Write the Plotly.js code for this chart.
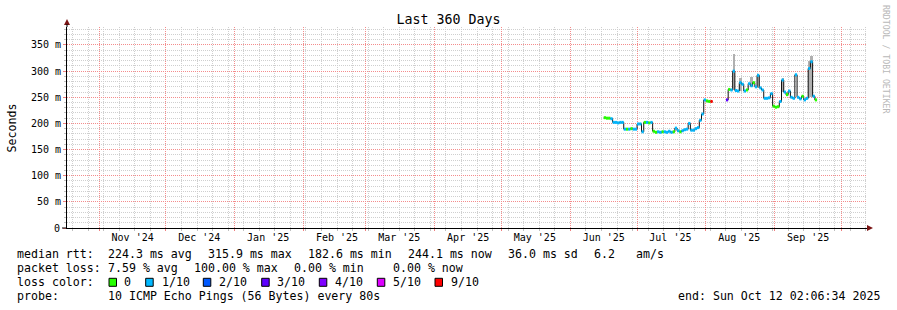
<!DOCTYPE html>
<html><head><meta charset="utf-8">
<script src="https://cdn.plot.ly/plotly-3.0.1.min.js"></script>
<style>html,body{margin:0;padding:0;background:#fff}#chart{width:897px;height:310px}</style>
</head><body><div id="chart"></div>
<script>
// ---------------- data ----------------
const dates = [
 '2025-06-16','2025-06-17','2025-06-18','2025-06-19','2025-06-20','2025-06-21','2025-06-22','2025-06-23','2025-06-24','2025-06-25',
 '2025-06-26','2025-06-27','2025-06-28','2025-06-29','2025-06-30','2025-07-01','2025-07-02','2025-07-03','2025-07-04','2025-07-05',
 '2025-07-06','2025-07-07','2025-07-08','2025-07-09','2025-07-10','2025-07-11','2025-07-12','2025-07-13','2025-07-14','2025-07-15',
 '2025-07-16','2025-07-17','2025-07-18','2025-07-19','2025-07-20','2025-07-21','2025-07-22','2025-07-23','2025-07-24','2025-07-25',
 '2025-07-26','2025-07-27','2025-07-28','2025-07-29','2025-07-30','2025-07-31','2025-08-01','2025-08-02','2025-08-03','2025-08-04',
 '2025-08-10','2025-08-11','2025-08-12','2025-08-13','2025-08-14','2025-08-15','2025-08-16','2025-08-17','2025-08-18','2025-08-19',
 '2025-08-20','2025-08-21','2025-08-22','2025-08-23','2025-08-24','2025-08-25','2025-08-26','2025-08-27','2025-08-28','2025-08-29',
 '2025-08-30','2025-08-31','2025-09-01','2025-09-02','2025-09-03','2025-09-04','2025-09-05','2025-09-06','2025-09-07','2025-09-08',
 '2025-09-09','2025-09-10','2025-09-11','2025-09-12','2025-09-13','2025-09-14','2025-09-15','2025-09-16','2025-09-17','2025-09-18',
 '2025-09-19'
];
// median rtt in ms (null = no data)
const median = [
 211,210,210,209,202,202,201,202,202,189,
 189,189,190,189,189,199,199,184,202,202,
 201,202,185,183,184,183,184,184,183,185,
 183,184,191,186,184,186,188,189,200,187,
 187,190,192,206,218,245,243,242,242,null,
 245,265,264,300,263,262,278,275,262,264,
 276,272,278,270,292,268,264,248,248,249,
 257,233,231,232,242,283,260,255,262,250,
 248,293,250,247,252,245,248,305,318,252,
 245
];
// loss class index (into lossLabels / lossColors)
const lossClass = [
 0,0,0,1,1,1,1,1,1,1,
 0,1,0,1,1,1,1,1,0,1,
 0,1,0,0,1,1,0,1,1,1,
 1,0,1,1,0,1,1,1,1,1,
 1,1,1,1,1,1,0,0,6,null,
 3,0,1,1,1,1,1,1,1,0,
 1,1,0,1,1,1,1,1,1,1,
 1,0,0,0,1,1,1,0,1,1,
 1,1,1,1,0,1,1,1,1,1,
 0
];
// visible smoke (ping spread) columns
const smokeDates = ['2025-08-13','2025-08-16','2025-08-21','2025-08-24','2025-09-04','2025-09-16','2025-09-17'];
const smokeLo    = [264, 262, 270, 268, 260, 248, 250];
const smokeHi    = [333, 287, 289, 295, 287, 320, 328];

const lossLabels = ['0','1/10','2/10','3/10','4/10','5/10','9/10'];
const lossColors = ['#26ff00','#00b8ff','#0059ff','#5e00ff','#7e00ff','#dd00ff','#ff0000'];

const monthStarts = ['2024-11-01','2024-12-01','2025-01-01','2025-02-01','2025-03-01','2025-04-01',
                     '2025-05-01','2025-06-01','2025-07-01','2025-08-01','2025-09-01','2025-10-01'];
const monthLabelPos = ['2024-11-16','2024-12-16','2025-01-16','2025-02-16','2025-03-16','2025-04-16',
                       '2025-05-16','2025-06-16','2025-07-16','2025-08-16','2025-09-16'];
const monthLabels = ["Nov '24","Dec '24","Jan '25","Feb '25","Mar '25","Apr '25",
                     "May '25","Jun '25","Jul '25","Aug '25","Sep '25"];
const yTicks = [0,50,100,150,200,250,300,350];
const yTickLabels = ['0','50 m','100 m','150 m','200 m','250 m','300 m','350 m'];
const yMinorTicks = [10,20,30,40,60,70,80,90,110,120,130,140,160,170,180,190,210,220,230,240,
                     260,270,280,290,310,320,330,340,360,370,380];

const statsLine1 = ['median rtt:','224.3 ms avg','315.9 ms max','182.6 ms min','244.1 ms now','36.0 ms sd','6.2','am/s'];
const statsLine2 = ['packet loss:','7.59 % avg','100.00 % max','0.00 % min','0.00 % now'];
const probeText = ['probe:','10 ICMP Echo Pings (56 Bytes) every 80s'];
const endText = 'end: Sun Oct 12 02:06:34 2025';
const titleText = 'Last 360 Days';

// ---------------- geometry helpers (layout only) ----------------
const W = 897, H = 310, L = 67, R = 867, T = 27, B = 228;
const px = x => (x - L) / (R - L);
const py = y => (B - y) / (B - T);
const DAY = 86400000;
const t = s => Date.parse(s.length === 10 ? s + 'T00:00:00Z' : s.replace(' ', 'T') + 'Z');
const xStart = '2024-10-17 11:15:00', xEnd = '2025-10-12 11:15:00';
const FONT = 'DejaVu Sans Mono, monospace';

// ---------------- traces ----------------
const traces = [];
// smoke
traces.push({
  type: 'bar', x: smokeDates.map(t), base: smokeLo, y: smokeHi.map((h, i) => h - smokeLo[i]),
  width: DAY, offset: 0, marker: {color: '#b0b0b0', line: {width: 0}}, hoverinfo: 'skip'
});
// black median step line
const mx = [], my = [];
for (let i = 0; i < dates.length; i++) {
  if (median[i] == null) { mx.push(null); my.push(null); continue; }
  mx.push(t(dates[i])); my.push(median[i]);
  if (i === dates.length - 1 || median[i + 1] == null) { mx.push(t(dates[i]) + DAY); my.push(median[i]); }
}
traces.push({type: 'scatter', mode: 'lines', x: mx, y: my, line: {color: '#111', width: 1, shape: 'hv'}, connectgaps: false, hoverinfo: 'skip'});
// loss-coloured median segments
lossColors.forEach((c, k) => {
  const sx = [], sy = [];
  for (let i = 0; i < dates.length; i++) {
    if (lossClass[i] !== k || median[i] == null) continue;
    sx.push(t(dates[i]), t(dates[i]) + DAY, null);
    sy.push(median[i], median[i], null);
  }
  if (sx.length) traces.push({type: 'scatter', mode: 'lines', x: sx, y: sy, line: {color: c, width: 3}, connectgaps: false, hoverinfo: 'skip'});
});
// dummy trace for label axis
traces.push({type: 'scatter', x: [t(xStart)], y: [null], xaxis: 'x2', yaxis: 'y', hoverinfo: 'skip', showlegend: false});

// ---------------- annotations ----------------
const ann = [];
const txt = (x, y, text, opts = {}) => ann.push(Object.assign({
  xref: 'paper', yref: 'paper', x: px(x), y: py(y), text, showarrow: false,
  xanchor: 'left', yanchor: 'middle', borderpad: 0, font: {family: FONT, size: 11.6, color: '#000'}
}, opts));
const l1x = [16, 107.3, 207.3, 307.3, 407.3, 507, 593.3, 635];
statsLine1.forEach((s, i) => txt(l1x[i], 254.3, s));
const l2x = [16, 107.3, 193.3, 293.3, 391.7];
statsLine2.forEach((s, i) => txt(l2x[i], 268.3, s));
txt(16, 282.3, 'loss color:');
const boxX = [109, 145.7, 203.3, 261.7, 319.3, 377.3, 435];
const labX = [123.3, 160.7, 218.3, 276, 334.3, 392.3, 450];
lossLabels.forEach((s, i) => txt(labX[i], 282.3, s));
txt(16, 296.3, probeText[0]);
txt(107.3, 296.3, probeText[1]);
txt(881, 296.3, endText, {xanchor: 'right'});
txt(11, 127.5, 'Seconds', {xanchor: 'center', textangle: -90});
txt(886, 59, 'RRDTOOL / TOBI OETIKER', {xanchor: 'center', textangle: 90, font: {family: FONT, size: 8.2, color: '#b8b8b8'}});
// zero label on the value axis (same style as the tick labels)
txt(60.5, 228, yTickLabels[0], {xanchor: 'right', font: {family: FONT, size: 10, color: '#000'}});

// ---------------- shapes ----------------
const shapes = [];
lossColors.forEach((c, i) => shapes.push({
  type: 'rect', xref: 'paper', yref: 'paper', x0: px(boxX[i]), x1: px(boxX[i] + 7.5), y0: py(286.3), y1: py(278.3),
  fillcolor: c, line: {color: '#000', width: 1}
}));
// axis arrows / extensions
shapes.push({type: 'path', xref: 'paper', yref: 'paper', xsizemode: 'pixel', ysizemode: 'pixel', xanchor: 0, yanchor: 1,
  path: 'M-3,2 L3,2 L0,8 Z', fillcolor: '#7a1414', line: {width: 0}});
shapes.push({type: 'line', xref: 'paper', yref: 'paper', xsizemode: 'pixel', ysizemode: 'pixel', xanchor: 0, yanchor: 1,
  x0: 0, x1: 0, y0: 0, y1: 3, line: {color: '#000', width: 1}});
shapes.push({type: 'path', xref: 'paper', yref: 'paper', xsizemode: 'pixel', ysizemode: 'pixel', xanchor: 1, yanchor: 0,
  path: 'M0,-3 L0,3 L6,0 Z', fillcolor: '#7a1414', line: {width: 0}});
shapes.push({type: 'line', xref: 'paper', yref: 'paper', xsizemode: 'pixel', ysizemode: 'pixel', xanchor: 0, yanchor: 0,
  x0: -5, x1: 0, y0: 0, y1: 0, line: {color: '#000', width: 1}});

const majorGrid = '#f48c8c', minorGrid = '#cfcfcf';
const yLabelText = yTickLabels.map((s, i) => i === 0 ? '' : s);
const layout = {
  width: W, height: H, margin: {l: L, r: W - R, t: T, b: H - B, pad: 0},
  paper_bgcolor: '#fff', plot_bgcolor: '#fff', showlegend: false,
  font: {family: FONT, size: 10, color: '#000'},
  title: {text: titleText, x: 0.5, xref: 'container', xanchor: 'center', y: 1 - 19 / H, yref: 'container', yanchor: 'middle',
          font: {family: FONT, size: 13.3, color: '#000'}},
  xaxis: {
    type: 'date', range: [xStart, xEnd], tickmode: 'array', tickvals: monthStarts, ticktext: monthStarts.map(() => ''),
    showgrid: true, gridcolor: majorGrid, griddash: '1px,1px', gridwidth: 1,
    ticks: 'outside', ticklen: 2, tickcolor: '#f08080',
    minor: {dtick: 7 * DAY, tick0: '2024-10-20', showgrid: true, gridcolor: minorGrid, griddash: '1px,1px', ticks: 'outside', ticklen: 2, tickcolor: '#c0c0c0'},
    showline: true, linecolor: '#000', linewidth: 1, zeroline: false, fixedrange: true
  },
  xaxis2: {
    type: 'date', range: [xStart, xEnd], overlaying: 'x', anchor: 'y', side: 'bottom',
    tickmode: 'array', tickvals: monthLabelPos, ticktext: monthLabels, showgrid: false, ticks: '', showline: false, zeroline: false,
    tickfont: {family: FONT, size: 10, color: '#000'}, fixedrange: true, ticklabelstandoff: 2
  },
  yaxis: {
    range: [0, 384.4], tickmode: 'array', tickvals: yTicks, ticktext: yLabelText,
    showgrid: true, gridcolor: majorGrid, griddash: '1px,1px', gridwidth: 1,
    minor: {tickmode: 'array', tickvals: yMinorTicks, showgrid: true, gridcolor: minorGrid, griddash: '1px,1px', ticks: 'outside', ticklen: 2, tickcolor: '#c0c0c0'},
    ticks: 'outside', ticklen: 3, tickcolor: '#f08080',
    showline: true, linecolor: '#000', linewidth: 1, zeroline: false, fixedrange: true,
    tickfont: {family: FONT, size: 10, color: '#000'}
  },
  annotations: ann, shapes: shapes, bargap: 0
};
Plotly.newPlot('chart', traces, layout, {staticPlot: true, displayModeBar: false});
</script></body></html>
